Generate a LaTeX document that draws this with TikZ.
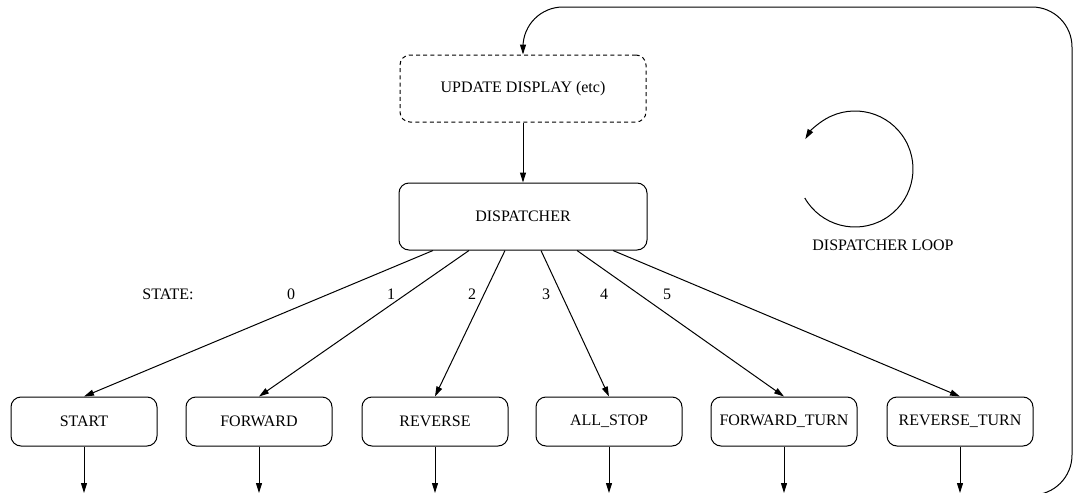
\documentclass[tikz,border=0pt]{standalone}
\usepackage{fontspec}
\setmainfont{Liberation Serif}
\usetikzlibrary{arrows.meta}
\begin{document}
\begin{tikzpicture}
        [x=0.5pt, y=-0.5pt, font=\fontsize{8}{9.6}\selectfont,
        box/.style={rectangle, draw, rounded corners=5pt, line width=0.5pt, inner sep=0pt, minimum width=73pt, minimum height=24.5pt},
        boxBig/.style={box, minimum width=124pt, minimum height=33.5pt},
        boxDashed/.style={boxBig, dash pattern=on 2pt off 1.6pt, minimum width=123pt},
        arr/.style={line width=0.5pt, -{Triangle[length=5pt, width=3pt]}}]
        \useasboundingbox (0,0) rectangle (1073,493);

        \node[boxDashed] (upd) at (523,88.5) {UPDATE DISPLAY (etc)};
        \node[boxBig] (disp) at (523,216.5) {DISPATCHER};

        \node[box] (start) at (84,421.5) {START};
        \node[box] (fwd) at (259,421.5) {FORWARD};
        \node[box] (rev) at (435,421.5) {REVERSE};
        \node[box] (stop) at (609,421.5) {ALL\_STOP};
        \node[box] (fwdturn) at (784,421.5) {FORWARD\_TURN};
        \node[box] (revturn) at (960,421.5) {REVERSE\_TURN};

        \node (statelbl) at (168,294) {STATE:};
        \node (s0) at (291,294) {0};
        \node (s1) at (391,294) {1};
        \node (s2) at (472,294) {2};
        \node (s3) at (546,294) {3};
        \node (s4) at (604,294) {4};
        \node (s5) at (667,294) {5};

        \coordinate (bottom) at (0,493);
        \coordinate (loopin) at (1000,495);
        \coordinate (loopc) at (855,169);
        \node (looplbl) at (883,245) {DISPATCHER LOOP};

        \draw[arr] (upd) -- (disp);

        \draw[arr] ([xshift=-45pt]disp.south) -- (start.north);
        \draw[arr] ([xshift=-27pt]disp.south) -- (fwd.north);
        \draw[arr] ([xshift=-9pt]disp.south) -- (rev.north);
        \draw[arr] ([xshift=9pt]disp.south) -- (stop.north);
        \draw[arr] ([xshift=27pt]disp.south) -- (fwdturn.north);
        \draw[arr] ([xshift=45pt]disp.south) -- (revturn.north);

        \draw[arr] (start) -- (start |- bottom);
        \draw[arr] (fwd) -- (fwd |- bottom);
        \draw[arr] (rev) -- (rev |- bottom);
        \draw[arr] (stop) -- (stop |- bottom);
        \draw[arr] (fwdturn) -- (fwdturn |- bottom);
        \draw[arr] (revturn) -- (revturn |- bottom);

        % back to the top of the loop
        \draw[arr, rounded corners=20pt] (loopin) -| (1072,7) -| (upd.north);
        \draw[arr] (loopc) ++(150:58) arc[start angle=150, end angle=-149, radius=58];
    \end{tikzpicture}
\end{document}
